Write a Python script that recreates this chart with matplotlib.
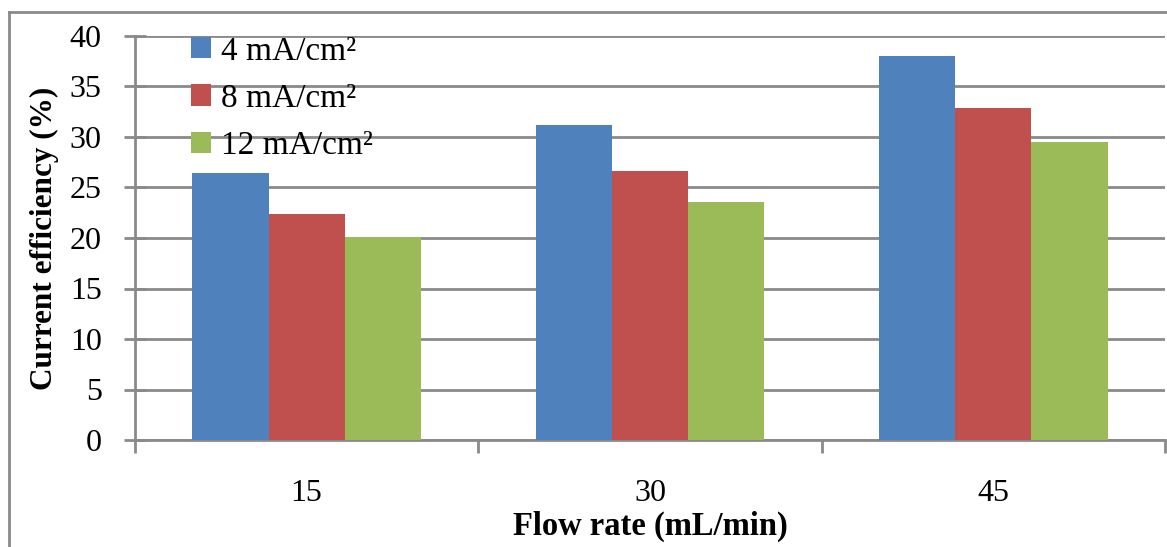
import matplotlib.pyplot as plt
import numpy as np
from matplotlib.lines import Line2D

plt.rcParams['font.family'] = ['Liberation Serif', 'DejaVu Serif']

flow_rates = ['15', '30', '45']
series_names = ['4 mA/cm²', '8 mA/cm²', '12 mA/cm²']
eff_4 = [26.4, 31.2, 38.0]
eff_8 = [22.4, 26.6, 32.9]
eff_12 = [20.1, 23.6, 29.5]
y_ticks = [0, 5, 10, 15, 20, 25, 30, 35, 40]

colors = ['#4F81BD', '#C0504D', '#9BBB59']
grey = '#8a8a8a'

fig = plt.figure(figsize=(11.67, 5.47), dpi=100)
ax = fig.add_axes([135/1167, 1-440/547, 1030/1167, 404/547])

x = np.arange(len(flow_rates))
w = 1/4.5
for i, (vals, name) in enumerate(zip([eff_4, eff_8, eff_12], series_names)):
    ax.bar(x + (i-1)*w, vals, width=w, color=colors[i], label=name, zorder=3)

ax.set_xlim(-0.5, 2.5)
ax.set_ylim(0, 40)
ax.set_yticks(y_ticks)
ax.yaxis.grid(True, color=grey, lw=2, zorder=0)
ax.set_axisbelow(True)

ax.set_xticks(x)
ax.set_xticklabels(flow_rates, fontsize=23)
ax.set_xticks([-0.5, 0.5, 1.5, 2.5], minor=True)
ax.tick_params(axis='x', which='major', length=0, pad=28)
ax.tick_params(axis='x', which='minor', length=9, width=2, color=grey, direction='out')
ax.tick_params(axis='y', labelsize=23, length=16, width=2, color=grey, direction='inout', pad=16)

for s in ['top', 'right']:
    ax.spines[s].set_visible(False)
for s in ['left', 'bottom']:
    ax.spines[s].set_color(grey)
    ax.spines[s].set_linewidth(2)

ax.set_ylabel('Current efficiency (%)', fontsize=22.5, fontweight='bold', labelpad=8)
ax.set_xlabel('Flow rate (mL/min)', fontsize=23.5, fontweight='bold', labelpad=2)

ax.legend(loc='upper left', bbox_to_anchor=(0.041, 1.033), frameon=False, fontsize=24,
          handlelength=0.6, handleheight=0.6, handletextpad=0.3, labelspacing=0.5,
          borderaxespad=0)

# outer chart border (left and top only are visible)
fig.add_artist(Line2D([9/1167, 9/1167], [0, 1-12/547], transform=fig.transFigure, color=grey, lw=2))
fig.add_artist(Line2D([9/1167, 1], [1-12/547, 1-12/547], transform=fig.transFigure, color=grey, lw=2))

fig.savefig('out.png', dpi=100)
